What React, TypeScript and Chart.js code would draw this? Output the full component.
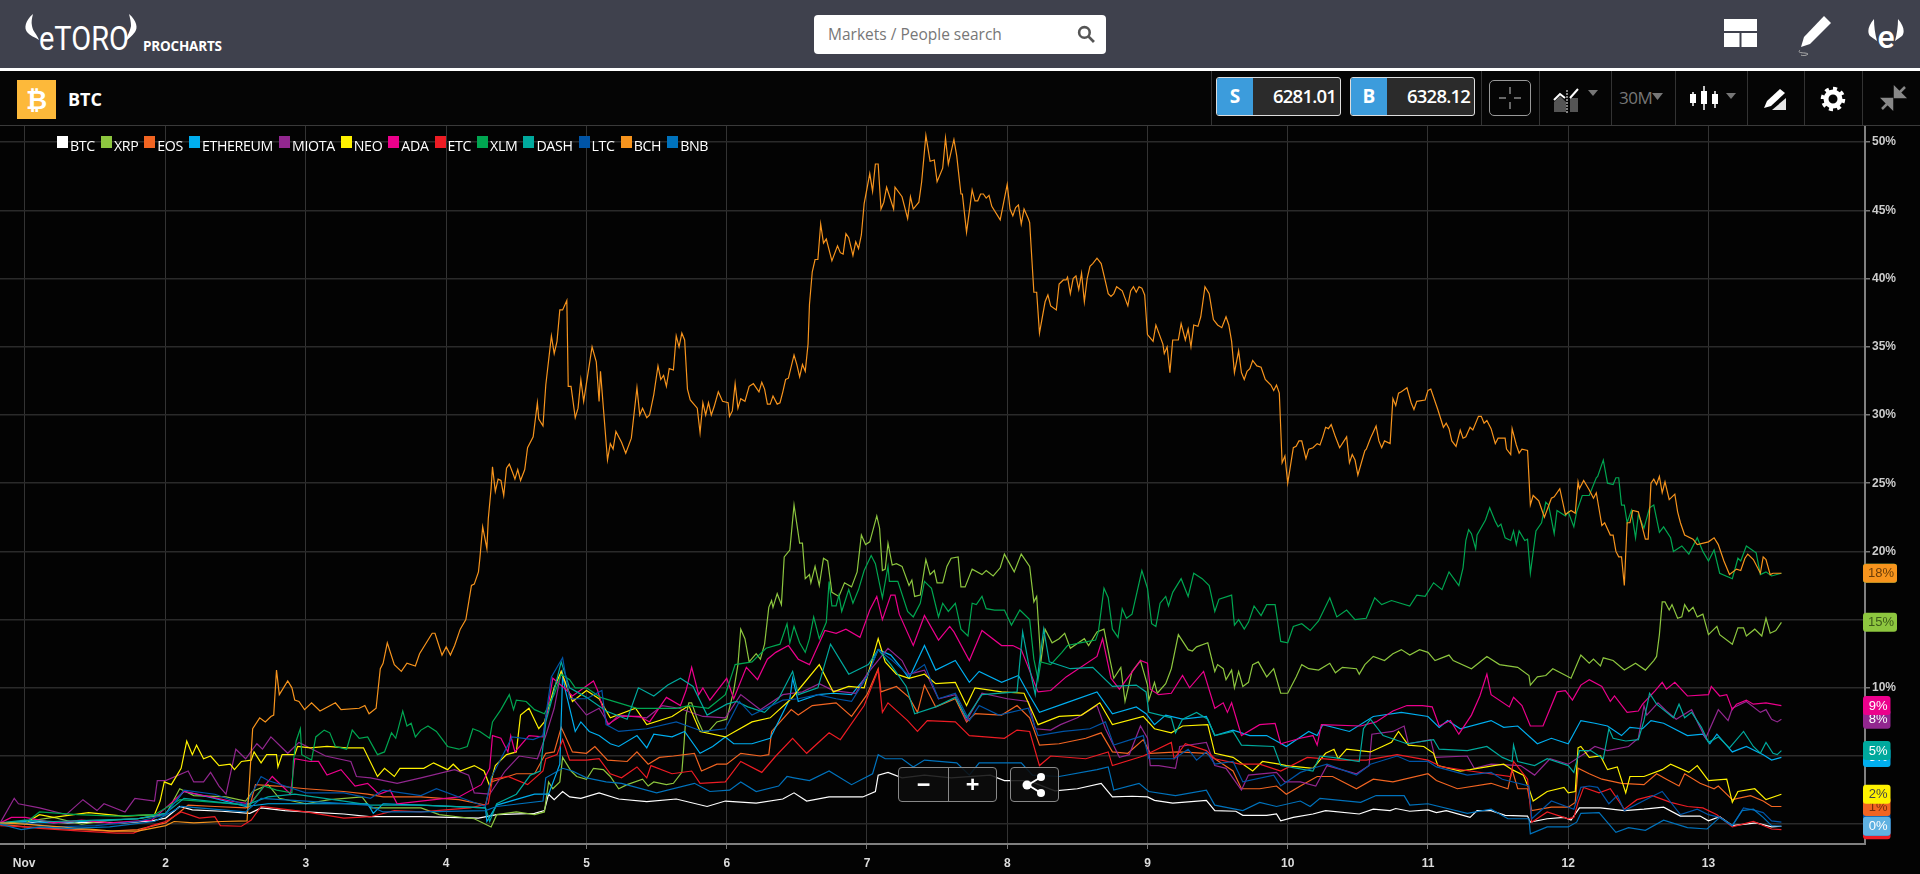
import React, { useEffect, useRef } from "react";
import { Chart, registerables } from "chart.js";

Chart.register(...registerables);

const seriesNames = ["BTC", "XRP", "EOS", "ETHEREUM", "MIOTA", "NEO", "ADA", "ETC", "XLM", "DASH", "LTC", "BCH", "BNB"];
const seriesColors = ["#ffffff", "#8dc63f", "#f26522", "#00aeef", "#92278f", "#fff200", "#ec008c", "#ed1c24", "#00a651", "#00a99d", "#0054a6", "#f7941d", "#0072bc"];
const dayTicks = [0.99, 2, 3, 4, 5, 6, 7, 8, 9, 10, 11, 12, 13];
const dayLabels = ["Nov", "2", "3", "4", "5", "6", "7", "8", "9", "10", "11", "12", "13"];
const percentTicks = [0, 5, 10, 15, 20, 25, 30, 35, 40, 45, 50];

const BTC = [[.82,0],[.9,.1],[1,.05],[1.1,.2],[1.3,.1],[1.5,.15],[1.7,.1],[1.9,.25],[2,.45],[2.1,1.3],[2.19,1.05],[2.4,.95],[2.6,.8],[2.68,1.2],[2.85,1],[3,.9],[3.27,.75],[3.45,.55],[3.82,.55],[4.23,.45],[4.36,.7],[4.63,.8],[4.7,1],[4.73,2.2],[4.77,1.8],[4.83,2.4],[4.88,2],[4.96,1.9],[5.09,2.3],[5.23,1.85],[5.43,1.65],[5.64,1.85],[5.86,1.3],[5.99,1.7],[6.21,1.55],[6.4,1.85],[6.48,2.3],[6.57,1.7],[6.73,2],[6.97,2],[7.06,2.4],[7.08,3.6],[7.15,3.8],[7.25,3.4],[7.41,3.6],[7.6,3.4],[7.88,3.6],[7.98,3.2],[8.15,3.2],[8.34,2.45],[8.5,2.6],[8.67,3],[8.75,2],[8.89,2.05],[9,2],[9.05,1.75],[9.18,1.55],[9.42,1.75],[9.48,1],[9.63,.95],[9.68,.65],[9.85,.65],[9.92,.75],[9.95,.25],[10.04,.5],[10.18,.75],[10.27,1],[10.51,.75],[10.61,1.1],[10.73,1],[10.77,1.15],[10.87,.95],[11,1.05],[11.06,.85],[11.13,1],[11.3,.5],[11.35,1],[11.45,1],[11.55,.65],[11.71,.6],[11.73,.15],[11.85,.4],[11.97,.5],[12.02,.3],[12.08,1.2],[12.23,1.2],[12.4,1],[12.54,1.1],[12.68,1.25],[12.8,.6],[12.94,.6],[13,.25],[13.08,.55],[13.17,-.1],[13.34,.1],[13.45,-.2],[13.52,-.15]];

const XRP = [[.82,.1],[1,.2],[1.2,.5],[1.4,0],[1.6,.3],[1.8,.4],[2,.7],[2.1,2.6],[2.2,2.1],[2.43,2],[2.57,1.7],[2.62,2.4],[2.73,2.9],[2.81,1.9],[3,1.5],[3.17,1.8],[3.4,2],[3.46,1.2],[3.82,1.2],[3.95,.7],[4.2,.4],[4.32,-.2],[4.36,.7],[4.5,.9],[4.63,.7],[4.7,.9],[4.73,3.1],[4.76,2.6],[4.81,3.1],[4.83,4.9],[4.89,3.9],[4.93,3.5],[5,3.3],[5.05,4.1],[5.12,4],[5.17,3.5],[5.23,2.6],[5.29,2.9],[5.4,3.3],[5.44,2.8],[5.48,3.1],[5.57,2.9],[5.62,3],[5.68,3.8],[5.69,5.1],[5.71,8],[5.73,8.9],[5.75,8.9],[5.79,7.7],[5.83,6.8],[5.87,6.8],[5.93,7.5],[6,7.7],[6.05,9.8],[6.08,11.7],[6.1,14.3],[6.13,13.6],[6.16,11.9],[6.21,12.5],[6.24,12.1],[6.27,13.2],[6.3,15.9],[6.32,16.4],[6.33,15.9],[6.36,16.9],[6.39,16.1],[6.41,19.6],[6.45,20.1],[6.48,23.4],[6.52,20.6],[6.54,20.6],[6.56,18],[6.59,18.3],[6.6,17.7],[6.63,18.9],[6.66,17.5],[6.69,19.5],[6.72,19.3],[6.75,17],[6.8,16.7],[6.84,17.7],[6.89,17.4],[6.93,18.5],[6.96,21.2],[6.99,20.5],[7.02,20.7],[7.07,22.6],[7.09,21.7],[7.11,18.6],[7.13,18.7],[7.15,20.6],[7.18,19],[7.21,19.1],[7.25,18.9],[7.3,17.5],[7.32,17.9],[7.34,16.7],[7.38,16.8],[7.42,19.4],[7.45,18.3],[7.48,18.6],[7.5,17.7],[7.54,17.7],[7.57,18.9],[7.6,19.5],[7.65,19.6],[7.67,17.4],[7.7,17.4],[7.75,18.7],[7.82,18.3],[7.85,18.6],[7.9,18.2],[7.95,18.8],[7.98,19.8],[8.05,18.5],[8.1,19.8],[8.16,18.9],[8.19,16.3],[8.21,16.7],[8.24,11.9],[8.27,14.3],[8.32,13.3],[8.37,13.6],[8.41,14],[8.45,12.9],[8.55,13.6],[8.58,13.1],[8.64,14.1],[8.69,14.3],[8.73,12.2],[8.76,10.7],[8.81,11.5],[8.84,9],[8.89,11.2],[8.95,12],[9,10.2],[9.01,9.1],[9.05,10.4],[9.07,9.6],[9.13,10.3],[9.17,11.4],[9.22,13.9],[9.29,12.8],[9.32,12.7],[9.35,13],[9.43,13.3],[9.48,11.2],[9.5,11.7],[9.54,11.4],[9.56,10.6],[9.6,11.3],[9.62,10],[9.65,11.2],[9.68,10.1],[9.72,10.4],[9.75,11.7],[9.79,11.9],[9.85,10.8],[9.9,11.4],[9.95,9.6],[10,9.6],[10.06,10.8],[10.1,11.7],[10.15,11.4],[10.22,11.3],[10.3,11.8],[10.34,11.1],[10.39,11.5],[10.49,11.4],[10.51,11],[10.55,11.7],[10.61,12.3],[10.69,12],[10.75,12.5],[10.81,12.8],[10.87,12.4],[10.94,12.8],[11,12.6],[11.05,12],[11.15,12.4],[11.18,12],[11.31,11.4],[11.42,12.3],[11.51,11.7],[11.64,11.5],[11.72,10.9],[11.73,10.2],[11.78,10.8],[11.84,10.9],[11.89,11.4],[12.02,10.7],[12.09,12.4],[12.15,11.8],[12.18,12.1],[12.23,11.6],[12.25,12.2],[12.32,12],[12.4,11.3],[12.48,11.8],[12.55,11.3],[12.61,12],[12.63,12.3],[12.65,13.9],[12.67,16.3],[12.69,16.3],[12.72,15.7],[12.74,16.1],[12.78,15.1],[12.81,15.2],[12.83,16.1],[12.86,15.6],[12.89,15.9],[12.92,15.2],[12.96,15.4],[13,13.9],[13.06,14.5],[13.08,13.9],[13.17,13.2],[13.21,14.4],[13.25,14.4],[13.27,13.8],[13.33,14.3],[13.38,13.8],[13.41,15.1],[13.44,14],[13.48,14.2],[13.52,14.8]];

const EOS = [[.82,0],[1,-.2],[1.2,-.3],[1.4,-.4],[1.6,-.5],[1.8,-.4],[2,.1],[2.1,.9],[2.16,1.4],[2.35,1.3],[2.57,1.2],[2.6,1.3],[2.64,2.9],[2.79,2.8],[3,2.6],[3.27,2.4],[3.44,2.2],[3.55,2],[3.82,2],[4.09,1.8],[4.28,1.4],[4.32,3.1],[4.5,3.7],[4.63,3.7],[4.71,5.2],[4.77,5.3],[4.82,7.1],[4.9,5.3],[5,5.2],[5.06,5.7],[5.15,4.7],[5.29,4.6],[5.36,5.3],[5.44,4.4],[5.52,4.9],[5.62,5],[5.77,5.2],[5.82,3.9],[5.93,4.4],[6,4.4],[6.1,5.2],[6.24,5],[6.3,5.1],[6.32,6.8],[6.46,8.4],[6.51,8],[6.61,8.7],[6.78,8.9],[6.89,7.9],[7,9.5],[7.08,11.4],[7.1,9.7],[7.21,10.1],[7.3,9.3],[7.36,8.2],[7.41,10.2],[7.49,8.6],[7.63,9.2],[7.71,7.5],[7.77,8.1],[7.96,8],[8.07,8.7],[8.16,7.8],[8.23,5.8],[8.37,5.9],[8.56,6.3],[8.67,6.7],[8.75,5.3],[8.86,5.2],[8.97,6.2],[9.02,5.2],[9.22,5.3],[9.42,5.2],[9.48,4.8],[9.61,3.9],[9.67,2.6],[9.8,2.6],[9.92,2.8],[9.99,2.2],[10.09,2.8],[10.21,3.5],[10.32,3.5],[10.49,2.6],[10.61,3.3],[10.75,3.1],[11,3.7],[11.06,3.2],[11.21,2.6],[11.45,3],[11.57,2.6],[11.6,4],[11.64,2.6],[11.71,2.6],[11.74,1],[11.88,1.25],[12,1.25],[12.05,1.6],[12.07,4.1],[12.15,3.7],[12.24,3.3],[12.38,3],[12.54,2.9],[12.63,3.7],[12.7,3.3],[12.79,2.8],[12.83,3.7],[12.94,3],[13.04,2.6],[13.07,2.8],[13.17,1.8],[13.3,2.1],[13.39,1.7],[13.45,1.3],[13.52,1.3]];

const ETHEREUM = [[.82,.1],[1,.2],[1.2,.1],[1.4,.2],[1.6,.3],[1.8,.4],[2,.8],[2.13,2.4],[2.35,1.9],[2.57,1.3],[2.73,1.5],[3,1.5],[3.22,1.5],[3.44,1.5],[3.48,.8],[3.55,1.5],[3.82,1.4],[4.28,1.2],[4.29,.2],[4.36,1.4],[4.63,2.2],[4.73,2.2],[4.81,4.4],[4.83,11],[4.85,9.8],[4.92,6.8],[4.96,7.5],[5.02,6.8],[5.09,6.5],[5.17,5.9],[5.23,5.7],[5.36,6.5],[5.43,5.6],[5.48,6.6],[5.61,6.4],[5.7,6.8],[5.81,5.2],[5.9,5.7],[5.99,6.4],[6.05,5.9],[6.18,5.9],[6.31,6.3],[6.45,9.2],[6.47,10.7],[6.51,9],[6.65,9.5],[6.76,9.6],[6.89,9.5],[7,10.9],[7.08,12.8],[7.17,12.4],[7.25,11.4],[7.3,10.7],[7.41,13.1],[7.49,11.3],[7.63,12],[7.73,10.4],[7.8,11.2],[7.96,10.4],[8.08,10.9],[8.15,9.6],[8.23,8.2],[8.42,8.9],[8.64,9.7],[8.75,8.1],[8.92,8.6],[8.99,8.1],[9.05,7.3],[9.13,8],[9.25,7.7],[9.42,7.9],[9.48,6.5],[9.61,6.9],[9.73,6.5],[9.85,6.5],[9.99,5.7],[10.15,6.8],[10.21,6.5],[10.25,7.3],[10.44,6.8],[10.61,7.9],[10.81,8.2],[11,7.9],[11.08,7.1],[11.14,7.6],[11.23,7],[11.45,7.6],[11.54,7.1],[11.64,7.2],[11.78,5.9],[11.88,6.3],[12,5.9],[12.09,7.6],[12.19,7.4],[12.28,7.2],[12.38,6.5],[12.44,7.1],[12.53,7],[12.59,7.6],[12.68,7.4],[12.85,6.5],[12.96,6.6],[13.01,5.9],[13.06,6.6],[13.17,5.3],[13.27,5.7],[13.39,5.1],[13.45,4.7],[13.52,4.9]];

const MIOTA = [[.82,.1],[.92,1.9],[.95,1.5],[1.1,1.2],[1.29,.7],[1.41,1.8],[1.51,1],[1.56,1.5],[1.71,.9],[1.78,1.9],[1.92,1.7],[1.94,3.2],[2,3.2],[2.16,3.9],[2.2,3.1],[2.27,3.1],[2.32,3.8],[2.38,2.8],[2.43,2.2],[2.5,5.5],[2.57,4.8],[2.65,5.9],[2.69,5.5],[2.75,6.4],[2.87,5.2],[2.95,6],[3.14,5],[3.32,4.6],[3.36,3.5],[3.46,3.4],[3.65,3],[3.82,3.4],[4.06,4],[4.16,3.6],[4.2,2.3],[4.31,2.2],[4.42,3.9],[4.52,5],[4.65,4.8],[4.71,6.5],[4.77,8.5],[4.82,11.2],[4.88,9.5],[5,8],[5.09,8.5],[5.16,7.3],[5.23,8],[5.43,7.8],[5.54,8.7],[5.66,8.5],[5.83,7.9],[5.99,7.8],[6.1,9.5],[6.24,8.4],[6.4,9.5],[6.54,9.7],[6.66,10.3],[6.76,9.8],[6.92,9.6],[7,11],[7.15,12.9],[7.25,12],[7.3,11],[7.41,11.3],[7.51,9.2],[7.63,9.5],[7.71,7.6],[7.82,9.6],[8,9.2],[8.15,9],[8.2,7],[8.31,6.9],[8.38,7.3],[8.5,7.8],[8.64,8.7],[8.7,7],[8.8,4.9],[8.87,5.1],[8.95,7.2],[9,6.3],[9.02,4.3],[9.08,4.3],[9.2,4.1],[9.23,5.7],[9.42,6],[9.48,4.3],[9.56,4.1],[9.67,2.5],[9.72,3.6],[9.92,3.8],[9.98,3.1],[10.09,3.1],[10.2,2.8],[10.28,4.3],[10.49,3.7],[10.58,4.3],[10.6,6.6],[10.75,6.8],[10.83,7.2],[10.86,5.9],[11.02,6.2],[11.05,4.9],[11.28,5],[11.33,4.1],[11.45,4.4],[11.66,4.3],[11.76,3.6],[11.87,4.8],[12,4.4],[12.12,5.2],[12.19,5.7],[12.28,5.4],[12.43,5.7],[12.5,6.3],[12.54,8.7],[12.56,8],[12.64,8.9],[12.7,8.3],[12.77,7.7],[12.88,8.4],[12.93,7.3],[12.98,6.3],[13.07,8.4],[13.14,7.6],[13.17,8.5],[13.27,9],[13.37,8.2],[13.41,8.4],[13.45,7.7],[13.49,7.5],[13.52,7.7]];

const NEO = [[.82,.1],[1,.1],[1.1,.7],[1.2,.5],[1.45,.85],[1.7,.6],[1.92,.7],[1.96,1.7],[1.99,3.1],[2.04,2.9],[2.11,4.1],[2.15,6.1],[2.19,5.1],[2.22,5.8],[2.27,4.8],[2.32,5],[2.38,4.3],[2.46,4.4],[2.49,4],[2.54,4.6],[2.61,4.7],[2.63,5.3],[2.68,4.5],[2.72,5.1],[2.79,5.1],[2.8,4.2],[2.83,5.1],[2.92,5.1],[2.94,5.7],[3.03,5.6],[3.15,5.7],[3.29,5.6],[3.41,5.6],[3.51,3.5],[3.56,4.1],[3.63,3.5],[3.67,4.1],[3.84,4.1],[3.91,4.5],[4.01,4],[4.05,4.4],[4.1,3.9],[4.2,4.3],[4.27,3.9],[4.31,2.8],[4.35,4.3],[4.43,5.1],[4.5,5.3],[4.53,8],[4.59,8.5],[4.66,7],[4.7,7.5],[4.77,10],[4.82,11.2],[4.9,9],[5,9.8],[5.09,9.2],[5.17,7.8],[5.35,8.5],[5.43,7.3],[5.61,7.9],[5.73,8.7],[5.81,6.8],[5.99,6.4],[6.18,7.5],[6.31,7.8],[6.46,9.2],[6.66,11.7],[6.76,9.7],[6.87,10.1],[6.98,10],[7.08,13.6],[7.13,11.9],[7.21,11],[7.3,10.7],[7.41,11],[7.49,10.3],[7.63,10.4],[7.71,8.7],[7.77,10],[7.96,9.7],[8.12,9.6],[8.22,7.3],[8.37,7.9],[8.53,8],[8.66,8.9],[8.75,7.3],[8.97,7.9],[9.05,7],[9.17,6.7],[9.25,7.2],[9.43,7.3],[9.48,5.2],[9.61,4.9],[9.75,3.9],[9.82,4.6],[9.94,4.4],[9.99,4.3],[10.18,4.1],[10.27,5.2],[10.33,5.5],[10.36,4.8],[10.42,5.5],[10.59,5.3],[10.74,6],[10.79,6.8],[10.86,5.8],[10.97,5.7],[11.04,5.2],[11.07,4.3],[11.23,3.9],[11.3,4],[11.47,4.3],[11.54,4.4],[11.6,4],[11.68,3.6],[11.72,2.6],[11.75,1.7],[11.85,2.4],[11.97,2.7],[12,2.3],[12.05,2.4],[12.07,5.6],[12.09,5.7],[12.15,4.9],[12.23,5],[12.28,4],[12.35,4.2],[12.41,2.3],[12.44,3.5],[12.54,3.5],[12.67,4],[12.73,4.4],[12.86,3.8],[12.92,4.3],[13,3.2],[13.13,3.3],[13.17,1.6],[13.21,2.4],[13.33,2.6],[13.41,1.8],[13.52,2.2]];

const ADA = [[.82,.1],[.9,.5],[1,.5],[1.2,.1],[1.4,.3],[1.6,.1],[1.9,.3],[2,1.2],[2.13,2.4],[2.46,1.7],[2.6,1.5],[2.76,3.5],[2.89,2.2],[2.92,4.8],[3.03,4.6],[3.09,4.6],[3.15,3.6],[3.25,4],[3.35,2.8],[3.44,3],[3.52,2.2],[3.6,2.5],[3.65,1.5],[3.82,1.7],[4.09,2],[4.25,2.9],[4.31,4.1],[4.33,6.5],[4.39,6.3],[4.44,5.3],[4.46,6.5],[4.49,5.3],[4.59,6.5],[4.69,6.4],[4.76,10.7],[4.84,10],[4.9,9.4],[5.05,10.5],[5.08,9.8],[5.15,7.3],[5.24,7.9],[5.38,7.9],[5.45,7.5],[5.57,9.3],[5.67,8.7],[5.71,9.8],[5.75,11.5],[5.8,9.5],[5.83,10],[5.88,9.1],[6,10.7],[6.05,9.2],[6.14,11.5],[6.22,10.6],[6.29,12.1],[6.35,12.6],[6.44,13.1],[6.51,12.1],[6.59,11.7],[6.7,14.2],[6.78,14],[6.85,14.3],[6.95,13.7],[7.02,15.7],[7.07,16.7],[7.11,15],[7.17,16.8],[7.2,16.8],[7.23,15.4],[7.33,13.1],[7.41,15.3],[7.51,13.5],[7.59,14.5],[7.62,14.1],[7.73,12],[7.82,14.2],[7.96,13.1],[8.04,13.1],[8.1,12.8],[8.22,9.7],[8.31,9.8],[8.42,10.8],[8.64,12.3],[8.68,13.6],[8.74,10.7],[8.8,9.9],[8.95,12],[9,11.8],[9.02,9.9],[9.08,9.5],[9.17,9.6],[9.25,10.9],[9.3,10],[9.4,11.2],[9.48,8.5],[9.54,8.9],[9.57,8.2],[9.6,8.9],[9.67,6.5],[9.8,7.3],[9.91,7.4],[9.95,5.9],[10.09,6.3],[10.18,6.5],[10.21,5.8],[10.24,7.3],[10.52,7.2],[10.63,7.5],[10.75,8.3],[10.85,8.7],[10.96,8.7],[11.03,8.6],[11.08,7.2],[11.16,7.6],[11.22,6.6],[11.31,8],[11.37,9.4],[11.42,11],[11.45,9.5],[11.58,8.6],[11.61,9.3],[11.67,8.7],[11.73,7.2],[11.82,7.2],[11.92,9.7],[11.98,9.8],[12.03,9.1],[12.09,10.2],[12.15,10.6],[12.24,10.1],[12.3,9],[12.33,9.4],[12.42,8.2],[12.5,8.3],[12.53,8.8],[12.62,9.8],[12.67,10.4],[12.7,9.9],[12.76,10.4],[12.85,9.4],[13,9.5],[13.02,10.1],[13.08,9.4],[13.13,9.5],[13.17,8.4],[13.2,8.8],[13.27,9.1],[13.32,8.8],[13.41,8.9],[13.52,8.7]];

const ETC = [[.82,-.1],[1,-.2],[1.1,-.3],[1.4,-.5],[1.65,-.65],[1.77,-.65],[1.9,-.1],[2,.2],[2.11,.9],[2.24,.45],[2.35,.55],[2.39,-.1],[2.54,-.15],[2.61,.3],[2.68,1.3],[3,.9],[3.27,.45],[3.46,.55],[3.63,1],[3.82,.9],[4.17,1.2],[4.3,1.5],[4.33,3.3],[4.44,3.5],[4.58,2.9],[4.69,3.9],[4.71,4.8],[4.79,5.1],[4.83,6.2],[4.88,4.7],[5,4.7],[5.09,4.8],[5.17,3.7],[5.25,3.4],[5.36,4.2],[5.43,3.4],[5.46,4.3],[5.61,3.7],[5.75,3.9],[5.81,3],[5.99,3.1],[6.1,4.6],[6.25,3.8],[6.35,5],[6.47,6.3],[6.57,5.2],[6.73,6.7],[6.81,6.2],[6.98,8.7],[7.08,11.3],[7.11,8.2],[7.15,8.9],[7.29,7.6],[7.36,6.8],[7.43,7.6],[7.63,7.5],[7.73,6.5],[7.98,6.3],[8.07,6.9],[8.16,6.8],[8.23,4.3],[8.31,5],[8.56,4.8],[8.72,5.3],[8.75,4.3],[8.97,5],[9.17,6],[9.19,4.8],[9.27,5.9],[9.42,5.4],[9.48,4.8],[9.66,4.4],[9.8,4.4],[9.95,3.9],[10.14,4.9],[10.37,4.7],[10.56,4.7],[10.78,5.1],[11,4.7],[11.1,4.2],[11.3,3.9],[11.59,3.5],[11.61,4.6],[11.71,3.3],[11.74,.15],[11.85,.9],[12,.4],[12.04,.5],[12.07,1.6],[12.11,2.7],[12.22,2.3],[12.3,2.6],[12.4,1.1],[12.49,1.8],[12.6,2.1],[12.73,1.6],[12.85,1.3],[12.96,1.2],[13.06,.7],[13.17,-.2],[13.32,.2],[13.45,-.35],[13.52,-.4]];

const XLM = [[.82,0],[1,.1],[1.1,.9],[1.37,.7],[1.64,.6],[1.92,.7],[2.1,1.8],[2.6,1.4],[2.7,2.8],[2.79,2.5],[2.9,2.3],[2.91,4.6],[2.93,6.1],[2.96,7],[2.97,5.1],[3.04,4.7],[3.07,6.4],[3.13,6.9],[3.17,6.7],[3.21,5.7],[3.29,5.5],[3.33,6.9],[3.38,6.3],[3.44,6.4],[3.51,5.1],[3.56,5.3],[3.61,6.7],[3.64,6.3],[3.69,8.3],[3.72,7.2],[3.75,7.4],[3.78,6.4],[3.82,6.9],[3.87,7.2],[3.93,6.8],[4.01,5.7],[4.09,5.5],[4.15,5.7],[4.19,7],[4.24,6.8],[4.31,6.3],[4.33,7.5],[4.39,8.4],[4.45,9.5],[4.48,8.4],[4.5,9.1],[4.57,9],[4.63,8.4],[4.7,8.1],[4.77,9.5],[4.82,11],[4.88,10.6],[4.92,10],[5,10],[5.1,9.3],[5.36,8.5],[5.64,8.5],[5.73,8.7],[5.87,8.5],[5.99,9.5],[6.06,11.7],[6.18,11.9],[6.28,12.9],[6.38,13.2],[6.43,14.7],[6.45,13.3],[6.48,14.5],[6.52,13.3],[6.56,12.6],[6.59,13.6],[6.62,15.2],[6.66,13.6],[6.71,14.8],[6.73,17.8],[6.75,16],[6.78,16],[6.8,16.8],[6.82,15.6],[6.87,17.2],[6.9,16.2],[6.94,17.2],[6.98,18.6],[7.03,19.7],[7.06,19.1],[7.11,16.6],[7.15,18.9],[7.16,17.8],[7.22,17.8],[7.29,15.6],[7.33,15.2],[7.38,16.2],[7.41,17.8],[7.46,17.3],[7.51,15.2],[7.54,16.2],[7.58,15.6],[7.63,16.2],[7.67,14.3],[7.72,13.8],[7.75,16.2],[7.78,16.1],[7.82,16.7],[7.85,15.8],[7.91,15.7],[7.98,15.7],[8.03,14.6],[8.09,15.7],[8.16,15],[8.19,12.1],[8.22,10.6],[8.24,11.9],[8.31,11.7],[8.39,12.6],[8.43,13.1],[8.52,13.3],[8.63,13.5],[8.65,14.1],[8.69,17.3],[8.72,16.6],[8.75,14.3],[8.79,13.7],[8.82,15.8],[8.85,15.1],[8.89,15.4],[8.96,18.6],[9,17.3],[9.03,14.7],[9.06,14.5],[9.09,16.2],[9.13,16.7],[9.15,16],[9.18,17],[9.24,18],[9.29,16.7],[9.33,18.4],[9.39,18],[9.44,17.5],[9.48,15.6],[9.51,16.5],[9.6,16.8],[9.62,14.6],[9.65,15],[9.69,14.3],[9.72,14.8],[9.76,16],[9.81,15.3],[9.85,16.1],[9.91,16.1],[9.95,13.4],[10,13.3],[10.04,14.5],[10.1,14.7],[10.16,14.2],[10.22,14.9],[10.3,16.6],[10.35,15.2],[10.42,15.7],[10.48,15],[10.56,15.1],[10.62,16.6],[10.67,16.1],[10.74,16.4],[10.87,16],[10.92,16.8],[10.98,16.7],[11.04,17.7],[11.1,17.2],[11.15,18.5],[11.22,17.5],[11.25,18.8],[11.27,20.8],[11.29,21.6],[11.31,21.3],[11.34,20.2],[11.35,21.2],[11.41,22.3],[11.44,23.2],[11.48,22.2],[11.5,21.8],[11.52,22],[11.55,21],[11.59,20.8],[11.61,21.5],[11.63,20.5],[11.65,21.5],[11.69,20.8],[11.71,20.9],[11.73,18.4],[11.77,21.5],[11.81,22.1],[11.84,23.6],[11.86,23.4],[11.9,21.3],[11.92,23],[11.95,22.8],[11.98,22.6],[12,22.9],[12.04,21.8],[12.06,22.9],[12.1,24.1],[12.15,24.1],[12.2,25.4],[12.21,25.5],[12.25,26.7],[12.28,25],[12.32,24.9],[12.34,25.4],[12.36,25.4],[12.38,23.4],[12.4,23.4],[12.42,22.1],[12.45,23],[12.48,21],[12.5,22.7],[12.54,21.7],[12.58,23.2],[12.61,23.4],[12.65,21.4],[12.68,21.8],[12.73,21],[12.75,20],[12.81,20.4],[12.86,19.8],[12.92,21],[12.96,20],[13,19.3],[13.04,20.1],[13.08,18.4],[13.17,18],[13.21,19.5],[13.23,19.3],[13.27,20.4],[13.34,19.9],[13.37,18.3],[13.41,18.5],[13.45,18.2],[13.52,18.4]];

const DASH = [[.82,.1],[1,.3],[1.2,.2],[1.5,.3],[1.8,.4],[2,.8],[2.13,1.9],[2.57,1.4],[2.73,2],[2.92,2.2],[3.27,1.7],[3.46,1.4],[3.82,1.4],[4.28,1.2],[4.31,.2],[4.36,1.5],[4.5,2.2],[4.6,3.6],[4.67,3.9],[4.71,7.5],[4.75,9],[4.82,11.9],[4.88,10],[5,9.3],[5.14,8.3],[5.29,7.7],[5.37,10],[5.48,9.4],[5.58,10.2],[5.67,10.7],[5.76,10.1],[5.86,8],[6,8.8],[6.07,9],[6.15,8.6],[6.27,8.2],[6.37,9.2],[6.47,11.2],[6.51,9.5],[6.65,10],[6.74,13.2],[6.87,11],[7.01,11.7],[7.08,12.8],[7.17,11.7],[7.28,10.1],[7.34,8.1],[7.49,8.6],[7.63,9.3],[7.71,7.8],[7.82,9.5],[8.07,9.7],[8.11,14.1],[8.15,11.9],[8.2,9.5],[8.26,14.3],[8.3,11.9],[8.45,11.4],[8.61,11.5],[8.75,10.1],[8.92,10.2],[8.99,9.7],[9.01,8.2],[9.17,7.8],[9.2,6.7],[9.25,7.7],[9.35,8.2],[9.43,7.7],[9.48,6.5],[9.61,6.8],[9.67,5.8],[9.9,5.7],[9.95,4.3],[10.18,3.9],[10.23,5],[10.32,4.9],[10.51,4.6],[10.54,7],[10.59,7.7],[10.68,6.5],[10.85,5.9],[11.04,6.2],[11.08,5.5],[11.28,5.4],[11.42,5.7],[11.53,4.9],[11.6,4.6],[11.61,5.8],[11.64,4.6],[11.76,4.3],[11.85,4.8],[12,4.3],[12.04,3.8],[12.08,5.4],[12.16,5.4],[12.25,4.8],[12.29,7],[12.32,6.3],[12.41,6.1],[12.5,6.2],[12.54,7.6],[12.58,9.6],[12.63,8.8],[12.75,7.8],[12.79,8.8],[12.83,7.8],[12.88,8.2],[12.95,7.1],[13,6],[13.07,6.4],[13.15,5.6],[13.25,6.8],[13.32,5.7],[13.37,5.2],[13.41,6],[13.46,5.2],[13.49,5.1],[13.52,5.4]];

const LTC = [[.82,0],[1,.1],[1.2,-.2],[1.5,-.1],[1.8,.2],[2,.7],[2.13,2.5],[2.35,2.2],[2.57,1.4],[2.68,3.5],[2.73,3.2],[3,2.3],[3.27,2.3],[3.46,1.9],[3.55,2.5],[3.82,2.1],[3.93,2.6],[4.09,2],[4.28,1.3],[4.32,3.4],[4.47,6.4],[4.62,6.2],[4.69,6.5],[4.75,10.8],[4.83,12.2],[4.88,9.2],[5,9.2],[5.11,9.8],[5.14,7.3],[5.23,6.8],[5.43,7],[5.64,7.5],[5.83,6.8],[5.99,7],[6.09,9],[6.18,8],[6.4,9.1],[6.51,9.2],[6.65,9.5],[6.78,9.2],[6.89,9],[7,10.8],[7.08,12.8],[7.17,12.1],[7.3,10.9],[7.41,11.7],[7.51,9.2],[7.63,9.6],[7.73,7.6],[7.8,8.7],[7.94,8],[8.15,8.5],[8.22,6.5],[8.4,6.8],[8.59,7],[8.7,7.5],[8.76,5.8],[8.97,6.5],[9.01,4.8],[9.19,4.8],[9.29,5.5],[9.35,4.7],[9.42,5.3],[9.48,4.4],[9.61,4.6],[9.68,3.1],[9.9,3.6],[9.95,2.8],[10.09,3.8],[10.18,4.1],[10.28,4.4],[10.49,3.6],[10.59,4.4],[10.78,5],[10.87,4.6],[11,4.6],[11.06,4.2],[11.28,3.6],[11.45,3.8],[11.53,3.3],[11.72,2.8],[11.74,.4],[11.88,1.7],[12.04,1.1],[12.09,2.7],[12.15,2.8],[12.21,2.7],[12.29,1.5],[12.35,2.1],[12.4,1],[12.59,2],[12.67,2.4],[12.8,.7],[12.92,1.1],[13,.7],[13.08,.5],[13.17,-.1],[13.25,1.2],[13.34,1],[13.39,.85],[13.45,.25],[13.52,.15]];

const BCH = [[.82,.1],[1,0],[1.12,-.1],[1.25,-.2],[1.37,-.3],[1.5,-.4],[1.62,-.5],[1.8,-.5],[1.9,-.3],[2,-.1],[2.06,.2],[2.2,.1],[2.4,.2],[2.58,.25],[2.62,7],[2.67,7.8],[2.71,7.5],[2.75,7.9],[2.77,8],[2.79,11.3],[2.81,9.5],[2.87,10.5],[2.9,10],[2.92,9.1],[2.95,9],[2.99,8.4],[3.04,8.9],[3.1,8.3],[3.21,8.9],[3.25,8.4],[3.38,8.5],[3.42,8.7],[3.45,8.1],[3.5,8.5],[3.53,11.4],[3.55,11.8],[3.58,13.3],[3.63,11.7],[3.68,11.2],[3.72,11.8],[3.78,11.6],[3.81,12.5],[3.9,14],[3.92,14],[3.97,12.4],[4,13],[4.03,12.4],[4.06,13.1],[4.1,14.3],[4.14,15],[4.18,17.5],[4.2,17.6],[4.23,18.5],[4.24,19.5],[4.26,21.8],[4.29,20.2],[4.3,22.4],[4.32,24.6],[4.33,26.2],[4.35,24.4],[4.37,25.3],[4.39,25.2],[4.41,24.1],[4.43,26.1],[4.45,26.4],[4.48,25.6],[4.49,25.3],[4.51,26],[4.53,25.2],[4.56,26],[4.58,27.6],[4.62,28.4],[4.65,30.9],[4.66,29.7],[4.69,29.2],[4.71,32.2],[4.75,35.8],[4.77,34.5],[4.79,35.4],[4.81,37.7],[4.83,37.7],[4.86,38.4],[4.87,32.1],[4.89,32.1],[4.92,29.8],[4.94,30.5],[4.96,32.6],[4.98,31],[5.04,35],[5.07,33.9],[5.09,31],[5.1,33.2],[5.15,26.7],[5.17,27.9],[5.19,27.5],[5.21,28.8],[5.25,28],[5.28,27.2],[5.32,28.3],[5.36,32],[5.38,30],[5.4,30.5],[5.43,29.8],[5.45,30],[5.48,31.5],[5.51,33.6],[5.53,32.6],[5.55,32.9],[5.57,32.1],[5.59,33.4],[5.62,33.3],[5.64,35.8],[5.66,35],[5.68,36],[5.7,35.5],[5.72,31.9],[5.74,31.1],[5.79,30.5],[5.81,28.7],[5.83,30.9],[5.85,30],[5.87,30.9],[5.89,30],[5.91,30.6],[5.94,31.7],[5.97,31],[6.01,30.9],[6.02,29.9],[6.04,30.3],[6.06,32.3],[6.08,30.5],[6.1,31.2],[6.13,31],[6.16,32.1],[6.19,32.3],[6.23,31.7],[6.25,32.4],[6.27,31.9],[6.29,30.8],[6.31,30.8],[6.33,31.4],[6.36,30.8],[6.38,30.9],[6.4,31.7],[6.42,32.6],[6.44,32.7],[6.48,34.4],[6.5,33.7],[6.52,32.8],[6.54,33.7],[6.56,33.2],[6.58,35.2],[6.59,38.1],[6.61,40.5],[6.63,41.4],[6.65,41.4],[6.67,44],[6.69,42.6],[6.71,42.9],[6.75,41.3],[6.79,42.4],[6.81,41.9],[6.83,41.8],[6.85,43.3],[6.87,43],[6.9,41.7],[6.92,42.7],[6.94,42.2],[6.96,43.2],[6.98,45.5],[7.02,47.7],[7.04,46.4],[7.06,48.4],[7.08,48.4],[7.1,45.1],[7.12,45.6],[7.14,46.7],[7.19,45.1],[7.2,46.7],[7.25,46],[7.29,44.4],[7.31,46],[7.33,45.1],[7.37,45.6],[7.39,47.1],[7.42,50.5],[7.45,48.6],[7.48,48.7],[7.5,47.1],[7.54,48.1],[7.56,50.3],[7.58,48.4],[7.62,50.2],[7.64,49],[7.67,46.2],[7.68,46.2],[7.71,43.4],[7.75,46.5],[7.77,45.7],[7.79,45.7],[7.81,46.2],[7.83,46.2],[7.85,45.9],[7.87,46.1],[7.89,45.3],[7.95,44.3],[8,46.9],[8.02,45.1],[8.04,44.6],[8.06,45.2],[8.08,45.4],[8.1,44],[8.12,45.1],[8.15,44.4],[8.16,44.1],[8.19,39],[8.21,39],[8.23,36],[8.27,38.3],[8.29,38.8],[8.31,38],[8.35,37.7],[8.37,39.6],[8.4,39.9],[8.42,39.9],[8.43,40.1],[8.45,38.9],[8.47,40],[8.49,40.2],[8.51,39.2],[8.53,40.4],[8.55,38.3],[8.57,40],[8.59,40.9],[8.61,41.1],[8.64,41.5],[8.67,41.1],[8.7,39.8],[8.72,38.9],[8.74,38.7],[8.76,38.9],[8.78,39.4],[8.82,39.1],[8.86,38],[8.88,39.1],[8.9,39.4],[8.92,39],[8.94,39.4],[8.96,39.3],[8.98,38.8],[9,35.9],[9.04,35.4],[9.06,36.6],[9.11,35.2],[9.12,34.5],[9.14,35],[9.16,33.1],[9.18,35.5],[9.22,35.5],[9.24,36.7],[9.27,35.5],[9.29,36.3],[9.31,35],[9.33,36.6],[9.36,36.5],[9.38,37.2],[9.41,39.4],[9.44,38.9],[9.47,37],[9.5,36.6],[9.53,36.4],[9.56,37.2],[9.58,36.6],[9.6,35.4],[9.62,33.1],[9.65,34.7],[9.67,33.1],[9.69,32.6],[9.71,33.2],[9.73,33.4],[9.75,34],[9.78,33.6],[9.81,33.5],[9.84,32.6],[9.88,32.2],[9.9,31.8],[9.92,32.2],[9.94,31.6],[9.96,26.5],[9.98,27],[10,25],[10.04,27.6],[10.06,27.7],[10.08,28.1],[10.1,28.1],[10.13,26.8],[10.15,27.5],[10.18,27.6],[10.21,27.9],[10.23,27.8],[10.25,28.4],[10.27,29.1],[10.29,29],[10.31,29.3],[10.34,28.4],[10.37,27.6],[10.42,28.4],[10.44,26.5],[10.46,27.1],[10.48,26.7],[10.5,25.6],[10.55,27.4],[10.56,27.5],[10.59,28.3],[10.63,29.2],[10.65,28.1],[10.67,27.6],[10.69,28.1],[10.73,27.9],[10.75,31.2],[10.77,30.7],[10.79,31.6],[10.81,31.7],[10.85,32],[10.88,30.9],[10.9,30.4],[10.92,31],[10.98,31.1],[11,31.8],[11.02,31.9],[11.07,30.4],[11.11,29.1],[11.13,29.4],[11.15,29],[11.17,28.1],[11.2,27.7],[11.23,28.9],[11.25,28.3],[11.27,28.4],[11.3,29.1],[11.32,28.9],[11.36,29.9],[11.38,29.9],[11.4,29.4],[11.42,29.6],[11.45,29],[11.48,27.9],[11.5,28.3],[11.55,28.3],[11.56,27.5],[11.59,27.1],[11.6,29],[11.63,27.8],[11.65,27.2],[11.67,27.5],[11.71,27.4],[11.73,23.4],[11.75,24.1],[11.79,23.7],[11.83,22.5],[11.88,23.9],[11.9,24],[11.94,24.6],[11.98,22.7],[12.02,23],[12.05,22.8],[12.07,25.1],[12.08,24.6],[12.11,25.2],[12.15,24.5],[12.18,23.9],[12.2,24.3],[12.24,21.9],[12.26,22.1],[12.3,21.2],[12.32,21.2],[12.34,20],[12.36,19.6],[12.38,19.6],[12.4,17.5],[12.42,22.1],[12.44,22.1],[12.46,23],[12.5,22.9],[12.55,20.9],[12.57,20.9],[12.59,25],[12.61,25.3],[12.63,24.9],[12.65,25.5],[12.67,24.3],[12.69,25.1],[12.72,23.8],[12.76,24.2],[12.78,22.9],[12.8,22.1],[12.83,21.2],[12.89,20.9],[12.92,20.5],[13,20.7],[13.04,21],[13.07,20.5],[13.11,19.3],[13.15,18.3],[13.2,18.7],[13.23,18.6],[13.26,19.5],[13.28,19.8],[13.32,19.4],[13.37,18.4],[13.39,19.6],[13.41,19.4],[13.44,18.3],[13.46,18.4],[13.52,18.4]];

const BNB = [[.82,0],[.97,-.4],[1.1,-.2],[1.3,-.3],[1.6,-.2],[1.92,.2],[2.11,1.3],[2.57,.9],[2.68,1.9],[3,1.7],[3.44,1.4],[3.55,.9],[3.82,.9],[4.28,1],[4.36,1.3],[4.69,1.7],[4.71,3.4],[4.83,4.1],[4.9,3.9],[5,3.4],[5.14,3.1],[5.25,3],[5.5,2.3],[5.77,3],[5.88,2.4],[6.02,2.5],[6.1,3.1],[6.21,2.4],[6.37,2.8],[6.43,3.5],[6.48,3.4],[6.59,3.2],[6.73,3.9],[6.89,2.9],[7.04,3.7],[7.08,5.1],[7.13,4.8],[7.25,4.8],[7.33,4.2],[7.41,4.7],[7.64,4.5],[7.73,3.6],[7.8,4.5],[8.1,4.5],[8.18,3.6],[8.37,3.5],[8.64,4],[8.72,4.2],[8.76,2.5],[8.94,3],[9.01,2.4],[9.2,2.1],[9.42,2.5],[9.48,1.4],[9.68,1],[9.8,1.6],[9.92,1.3],[10.09,1.7],[10.16,1.3],[10.23,1.9],[10.52,1.6],[10.63,2.1],[10.83,2.1],[10.87,1.4],[11,1.5],[11.28,.8],[11.45,1.1],[11.57,.4],[11.72,.4],[11.73,-.7],[11.85,-.2],[12,-.2],[12.06,.15],[12.09,.8],[12.22,.85],[12.34,-.6],[12.43,-.25],[12.55,-.45],[12.68,.3],[12.85,-.25],[12.99,-.35],[13.08,.5],[13.17,-.1],[13.24,1],[13.32,1.1],[13.39,.5],[13.45,-.1],[13.52,-.15]];

const seriesData = [BTC, XRP, EOS, ETHEREUM, MIOTA, NEO, ADA, ETC, XLM, DASH, LTC, BCH, BNB];
const tagOrder = ["ETC", "LTC", "BNB", "EOS", "NEO", "ETHEREUM", "DASH", "MIOTA", "ADA", "XRP", "XLM", "BCH", "BTC"];
const tagFills: Record<string, string> = { BTC: "#5fb1e1" };
const tagInks: Record<string, string> = { NEO: "#444", XRP: "#3c5a1a", BCH: "#6b3d08", EOS: "#7a2f0c", XLM: "#fff" };

const valueTags = {
  id: "valueTags",
  afterDatasetsDraw(chart: any) {
    const { ctx, scales } = chart;
    const left = scales.y.left - 2;
    ctx.save();
    ctx.textBaseline = "middle";
    ctx.textAlign = "right";
    ctx.font = "13px 'Liberation Sans'";
    tagOrder.forEach((name) => {
      const i = seriesNames.indexOf(name);
      const pts = seriesData[i];
      const v = pts[pts.length - 1][1];
      const label = `${Math.round(v) || 0}%`;
      const y = scales.y.getPixelForValue(v);
      const w = label.length > 2 ? 34 : 27.5;
      ctx.fillStyle = tagFills[name] || seriesColors[i];
      ctx.beginPath();
      ctx.roundRect(left, y - 9.5, w, 19, 3);
      ctx.fill();
      ctx.fillStyle = tagInks[name] || "#fff";
      ctx.fillText(label, left + w - 3, y + 0.5);
    });
    ctx.restore();
  },
};

const bar: React.CSSProperties = { position: "absolute", left: 0, top: 0, width: 1920, height: 68, background: "#3f414d" };
const box = (left: number, top: number, width: number, height: number, extra: React.CSSProperties = {}): React.CSSProperties => ({ position: "absolute", left, top, width, height, boxSizing: "border-box", ...extra });
const sans = "'Open Sans', sans-serif";

function Price({ left, letter, value }: { left: number; letter: string; value: string }) {
  return (
    <div style={box(left, 77, 125, 39, { background: "#2b2b2b", border: "1px solid #ddd", borderRadius: 3, overflow: "hidden" })}>
      <div style={box(0, 0, 36, 37, { background: "#3c9cdc", color: "#fff", font: `700 19px ${sans}`, textAlign: "center", lineHeight: "37px" })}>{letter}</div>
      <div style={box(40, 0, 79, 37, { color: "#fff", font: `600 18.5px ${sans}`, letterSpacing: -0.8, textAlign: "right", lineHeight: "35px" })}>{value}</div>
    </div>
  );
}

export default function App() {
  const ref = useRef<HTMLCanvasElement>(null);
  useEffect(() => {
    const fixAxis = (size: "width" | "height", n: number) => (s: any) => {
      s[size] = n;
      s.paddingTop = s.paddingBottom = s.paddingLeft = s.paddingRight = 0;
    };
    const chart = new Chart(ref.current!, {
      type: "line",
      data: {
        datasets: seriesNames.map((name, i) => ({
          label: name,
          data: seriesData[i].map(([x, y]) => ({ x, y })),
          borderColor: seriesColors[i],
          borderWidth: 1.2,
          pointRadius: 0,
          tension: 0,
          order: -i,
        })),
      },
      options: {
        animation: false,
        responsive: false,
        devicePixelRatio: 1,
        layout: { padding: 0 },
        plugins: { legend: { display: false }, tooltip: { enabled: false } },
        scales: {
          x: {
            type: "linear",
            min: 0.8185,
            max: 14.116,
            afterBuildTicks: (s: any) => { s.ticks = dayTicks.map((value) => ({ value })); },
            afterFit: fixAxis("height", 30),
            grid: { color: "#333", lineWidth: 1, tickColor: "#777", tickLength: 5 },
            border: { color: "#808080", width: 2 },
            ticks: {
              autoSkip: false,
              maxRotation: 0,
              padding: 7,
              color: "#ddd",
              font: { family: "'Liberation Sans'", size: 12, weight: "bold" },
              callback: (v: any) => dayLabels[dayTicks.indexOf(v)],
            },
          },
          y: {
            position: "right",
            min: -1.45,
            max: 51.26,
            afterBuildTicks: (s: any) => { s.ticks = percentTicks.map((value) => ({ value })); },
            afterFit: fixAxis("width", 55),
            grid: { color: "#2a2a2a", lineWidth: 1.5, tickColor: "#777", tickLength: 5 },
            border: { color: "#808080", width: 2 },
            ticks: {
              autoSkip: false,
              padding: 2,
              color: "#ccc",
              font: { family: "'Liberation Sans'", size: 12, weight: "bold" },
              callback: (v: any) => `${v}%`,
            },
          },
        },
      },
      plugins: [valueTags],
    } as any);
    return () => chart.destroy();
  }, []);

  const separators = [1211, 1481, 1539, 1611, 1675, 1747, 1804, 1862];
  return (
    <div style={{ position: "fixed", left: 0, top: 0, width: 1920, height: 874, background: "#030303", overflow: "hidden" }}>
      <div style={bar}>
        <svg style={box(24, 12, 116, 44)} viewBox="0 0 116 44">
          <path d="M9 2 C1 9 0 16 3 20 C6 24 11 25 15 28 C13 22 9 20 8 14 C7 10 8 6 9 2Z" fill="#fff" />
          <path d="M105 2 C113 9 114 16 111 20 C108 24 105 26 102 29 C103 23 106 20 107 14 C107 10 106 6 105 2Z" fill="#fff" />
          <text x="15" y="38" fill="#fff" textLength="90" lengthAdjust="spacingAndGlyphs" style={{ font: "400 33px Roboto" }}>eTORO</text>
        </svg>
        <div style={box(143, 37, 90, 18, { color: "#fff", font: `700 13.5px ${sans}`, lineHeight: "18px", letterSpacing: -0.2 })}>PROCHARTS</div>
        <div style={box(814, 15, 292, 39, { background: "#fff", borderRadius: 4, color: "#777", font: `15.5px ${sans}`, lineHeight: "38px", paddingLeft: 14 })}>Markets / People search</div>
        <svg style={box(1077, 25, 18, 18)} viewBox="0 0 17 17"><circle cx="7" cy="7" r="5" fill="none" stroke="#555" strokeWidth="2.4" /><path d="M11 11 L16 16" stroke="#555" strokeWidth="2.6" /></svg>
        <svg style={box(1724, 19, 33, 28)} viewBox="0 0 33 28"><rect width="33" height="12" fill="#fff" /><rect y="14" width="15.5" height="14" fill="#fff" /><rect x="17.5" y="14" width="15.5" height="14" fill="#fff" /></svg>
        <svg style={box(1794, 14, 40, 42)} viewBox="0 0 40 42"><path d="M30 2 L37 9 L16 30 L7 33 L10 23Z" fill="#fff" /><path d="M6 36 C2 40 12 38 14 40 C12 42 8 42 7 41" stroke="#aaa" fill="none" /></svg>
        <svg style={box(1868, 18, 36, 36)} viewBox="0 0 36 36">
          <path d="M6 1 C0 8 -1 14 2 18 L9 23 C7 16 6 8 6 1Z" fill="#fff" /><path d="M30 1 C36 8 37 14 34 18 L27 23 C29 16 30 8 30 1Z" fill="#fff" />
          <text x="18" y="30" fill="#fff" textAnchor="middle" style={{ font: "500 32px Roboto" }}>e</text>
        </svg>
      </div>
      <div style={box(0, 68, 1920, 3, { background: "#fff" })} />
      <div style={box(0, 71, 1920, 54, { background: "#050505" })} />
      <div style={box(0, 125, 1920, 1, { background: "#3a3a3a", zIndex: 3 })} />
      {separators.map((x) => <div key={x} style={box(x, 71, 1, 54, { background: "#333" })} />)}
      <div style={box(17, 80, 39, 39, { background: "#fdb93a", color: "#fff", font: `700 26px ${sans}`, textAlign: "center", lineHeight: "38px" })}>₿</div>
      <div style={box(68, 84, 60, 30, { color: "#fff", font: `700 18px ${sans}`, lineHeight: "30px" })}>BTC</div>
      <Price left={1216} letter="S" value="6281.01" />
      <Price left={1350} letter="B" value="6328.12" />
      <div style={box(1489, 80, 42, 36, { border: "1px solid #999", borderRadius: 5 })}>
        <svg width="40" height="34" viewBox="0 0 40 34"><path d="M20 6 V13 M20 21 V28 M9 17 H16 M24 17 H31" stroke="#888" strokeWidth="1.5" /></svg>
      </div>
      <svg style={box(1552, 86, 52, 28)} viewBox="0 0 52 28">
        <path d="M2 26 V16 L8 10 L14 16 V26Z" fill="#555" /><path d="M18 26 V12 H26 V26Z" fill="#555" /><path d="M2 14 L8 8 L13 12 M18 12 L26 3" stroke="#fff" strokeWidth="2" fill="none" /><path d="M15 4 V28" stroke="#fff" strokeDasharray="2 1" />
        <path d="M36 4 H46 L41 10Z" fill="#777" />
      </svg>
      <div style={box(1619, 85, 50, 26, { color: "#777", font: `400 17px ${sans}`, lineHeight: "26px", letterSpacing: -0.5 })}>30M</div>
      <svg style={box(1652, 93, 11, 7)} viewBox="0 0 11 7"><path d="M0 0 H11 L5.5 7Z" fill="#777" /></svg>
      <svg style={box(1690, 84, 52, 28)} viewBox="0 0 52 28">
        <path d="M3 8 V22 M14 2 V26 M25 7 V24" stroke="#fff" strokeWidth="1.5" /><rect x="0" y="10" width="6" height="9" fill="#fff" /><rect x="11" y="7" width="6" height="13" fill="#fff" /><rect x="22" y="10" width="6" height="10" fill="#fff" />
        <path d="M36 9 H46 L41 15Z" fill="#777" />
      </svg>
      <svg style={box(1762, 88, 26, 24)} viewBox="0 0 26 24"><path d="M18 1 L23 5 L9 18 L2 20 L5 13Z" fill="#fff" /><path d="M24 10 V22 H10Z" fill="#fff" opacity=".9" /></svg>
      <svg style={box(1820, 86, 26, 26)} viewBox="0 0 26 26"><circle cx="13" cy="13" r="7" fill="none" stroke="#fff" strokeWidth="5" /><circle cx="13" cy="13" r="10.5" fill="none" stroke="#fff" strokeWidth="3.5" strokeDasharray="4 4.2" /></svg>
      <svg style={box(1878, 84, 32, 28)} viewBox="0 0 32 28"><path d="M27 3 L20 10 M17 13 V4 L26 13Z" stroke="#888" strokeWidth="2.5" fill="#888" /><path d="M4 25 L11 18 M14 15 V24 L5 15Z" stroke="#888" strokeWidth="2.5" fill="#888" /></svg>

      <canvas ref={ref} width={1920} height={749} style={{ position: "absolute", left: 0, top: 125, width: 1920, height: 749 }} />

      <div style={{ position: "absolute", left: 57, top: 135, display: "flex", gap: 6, zIndex: 2, color: "#fff", font: `14.2px ${sans}`, letterSpacing: -0.35, lineHeight: "21px" }}>
        {seriesNames.map((name, i) => (
          <div key={name} style={{ display: "flex", alignItems: "flex-start", gap: 2 }}>
            <span style={{ width: 11, height: 12, marginTop: 1, background: seriesColors[i], display: "block" }} />
            <span>{name}</span>
          </div>
        ))}
      </div>

      <div style={box(898, 767, 99, 35, { background: "rgba(12,12,12,.88)", border: "1px solid #888", borderRadius: 4, zIndex: 2 })}>
        <div style={box(49, 0, 1, 33, { background: "#888" })} />
        <div style={box(0, 0, 49, 33, { color: "#fff", font: `700 24px ${sans}`, textAlign: "center", lineHeight: "31px" })}>−</div>
        <div style={box(50, 0, 47, 33, { color: "#fff", font: `700 24px ${sans}`, textAlign: "center", lineHeight: "31px" })}>+</div>
      </div>
      <div style={box(1010, 767, 49, 35, { background: "rgba(12,12,12,.88)", border: "1px solid #888", borderRadius: 4, zIndex: 2 })}>
        <svg width="47" height="33" viewBox="0 0 47 33"><path d="M17 17 L30 9 M17 17 L30 25" stroke="#fff" strokeWidth="2" /><circle cx="16" cy="17" r="4.5" fill="#fff" /><circle cx="30" cy="9" r="4" fill="#fff" /><circle cx="30" cy="25" r="4" fill="#fff" /></svg>
      </div>
    </div>
  );
}
